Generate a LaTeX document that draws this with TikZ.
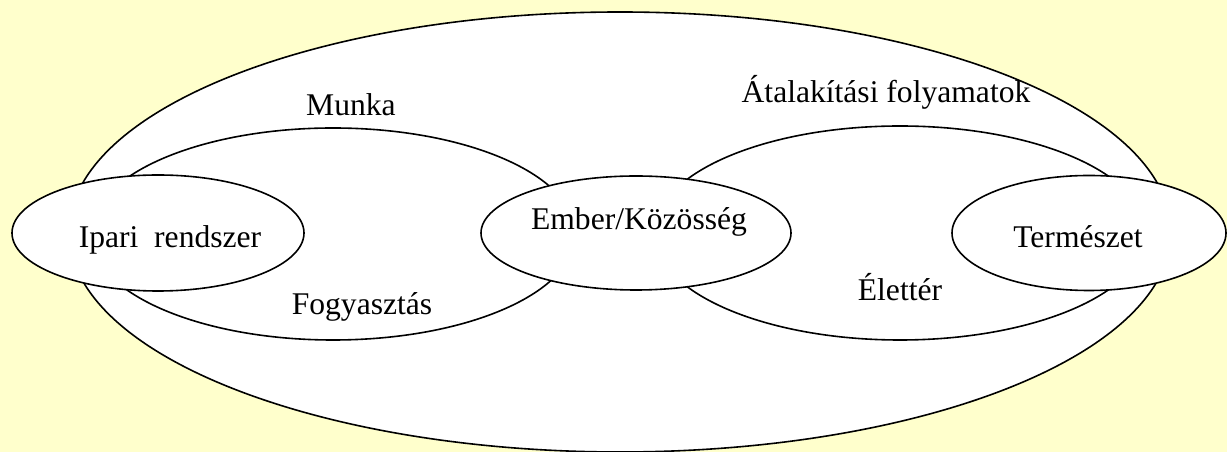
\documentclass[tikz,border=0pt]{standalone}
\usepackage{fontspec}
\setmainfont{Liberation Serif}
\usetikzlibrary{shapes.geometric,positioning}
\definecolor{bgyellow}{RGB}{255,255,204}

\begin{document}
\begin{tikzpicture}[
  x=1pt,y=1pt,
  font=\fontsize{31.6}{38}\selectfont,
  oval/.style={draw,ellipse,fill=white,line width=1.6pt,inner sep=0pt},
  lbl/.style={anchor=base,inner sep=0pt}]

\fill[bgyellow] (0,0) rectangle (1227,452);
\useasboundingbox (0,0) rectangle (1227,452);

% outer and the two middle ovals
\node[oval,minimum width=1102,minimum height=440] (vilag) at (620,220) {};
\node[oval,minimum width=485,minimum height=212] (munkaov) at (333,218) {};
\node[oval,minimum width=492,minimum height=214] (eletov) at (900,219) {};

% the three small ones
\node[oval,minimum width=292,minimum height=116] (ipari) at (158,219) {};
\node[oval,minimum width=310,minimum height=114] (ember) at (636,219) {};
\node[oval,minimum width=274,minimum height=115] (term) at (1089,219) {};

\node[lbl] (ipariT) at (170,204) {Ipari\ \ rendszer};
\node[lbl] (emberT) at (639,222) {Ember/Közösség};
\node[lbl] (termT) at (1078,204) {Természet};

\node[lbl] (munka) at (351,336) {Munka};
\node[lbl] (fogy) at (362,137) {Fogyasztás};
\node[lbl] (atal) at (886,349) {Átalakítási folyamatok};
\node[lbl] (elet) at (900,151) {Élettér};
\end{tikzpicture}
\end{document}
